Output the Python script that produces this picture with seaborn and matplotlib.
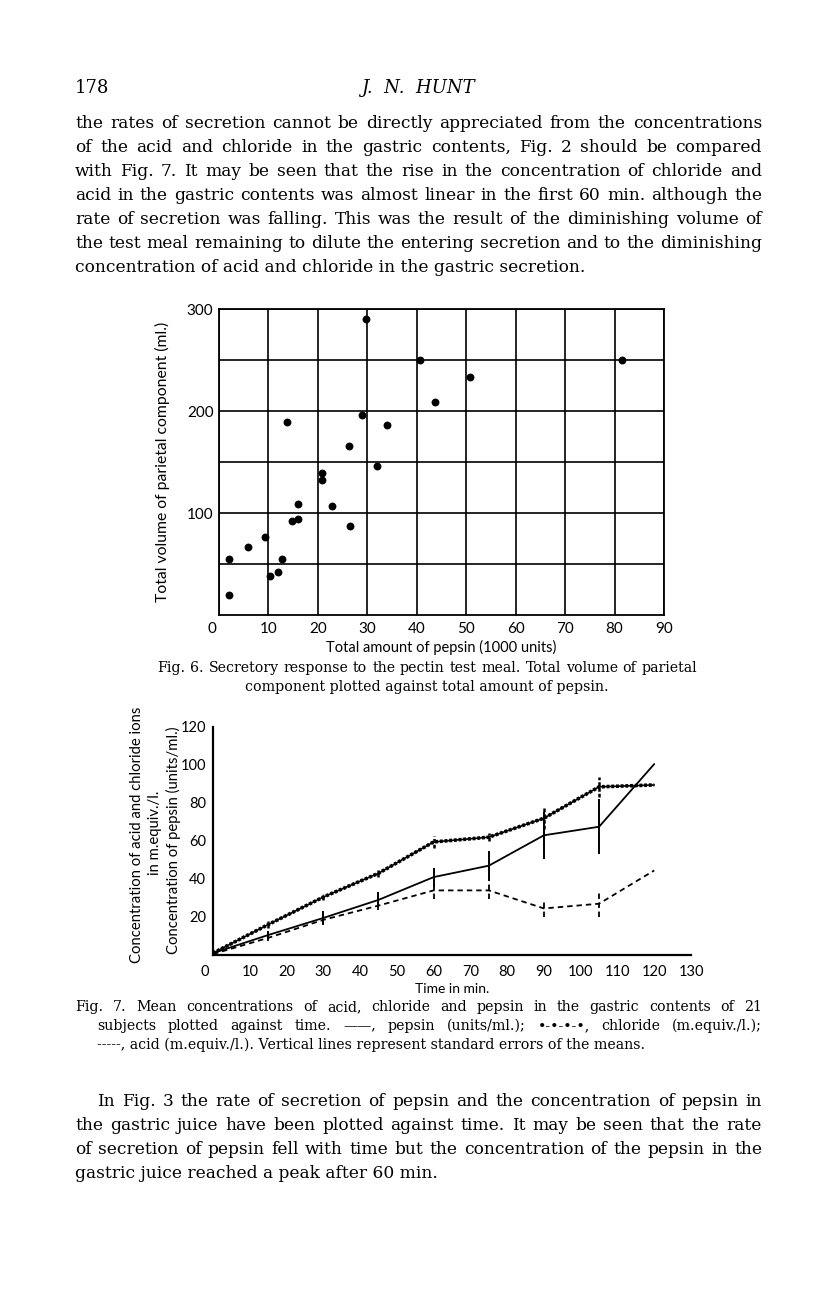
import matplotlib
matplotlib.use("Agg")
import matplotlib.pyplot as plt
import matplotlib.transforms as mtransforms
import numpy as np
import pandas as pd
import seaborn as sns

W, H = 816, 1296
IDENT = mtransforms.IdentityTransform()

# Fig. 6: total pepsin (1000 units) vs total volume of parietal component (ml.)
pepsin_total = [2.0, 2.0, 5.8, 9.3, 10.3, 11.9, 12.8, 13.8, 14.8, 15.9, 15.9, 20.9,
                20.9, 22.8, 26.2, 26.4, 28.9, 29.8, 31.9, 34.0, 40.6, 43.7, 50.7, 81.5]
parietal_volume = [55, 20, 67, 76, 38, 42, 55, 189, 92, 94, 109, 139,
                   132, 107, 166, 87, 196, 290, 146, 186, 250, 209, 233, 250]

# Fig. 7: mean concentrations against time
time_min = [0, 15, 30, 45, 60, 75, 90, 105, 120]
pepsin_conc = [1, 10.5, 19.5, 29, 41, 47, 63, 67.5, 100.5]
chloride_conc = [1, 16, 30.5, 43, 59.5, 62, 72, 88.5, 89.5]
acid_conc = [0.5, 9, 18.5, 26, 34, 34, 24.5, 27, 44.5]
se_time = [15, 30, 45, 60, 75, 90, 105]
pepsin_se = [2, 3.5, 4, 5, 8, 12.5, 14.5]
chloride_se = [1.8, 1.8, 2, 3, 2, 5.6, 5.3]
acid_se = [1.5, 1.5, 2.5, 4.3, 4.6, 4.7, 6.9]

fig6_xticks = list(range(0, 91, 10))
fig6_yticks = [100, 200, 300]
fig7_xticks = list(range(0, 131, 10))
fig7_yticks = [20, 40, 60, 80, 100, 120]

body_top = [
    "the rates of secretion cannot be directly appreciated from the concentrations",
    "of the acid and chloride in the gastric contents, Fig. 2 should be compared",
    "with Fig. 7.  It may be seen that the rise in the concentration of chloride and",
    "acid in the gastric contents was almost linear in the first 60 min. although the",
    "rate of secretion was falling. This was the result of the diminishing volume of",
    "the test meal remaining to dilute the entering secretion and to the diminishing",
    "concentration of acid and chloride in the gastric secretion.",
]
body_bottom = [
    "In Fig. 3 the rate of secretion of pepsin and the concentration of pepsin in",
    "the gastric juice have been plotted against time.  It may be seen that the rate",
    "of secretion of pepsin fell with time but the concentration of the pepsin in the",
    "gastric juice reached a peak after 60 min.",
]
caption6 = [
    "Fig. 6.  Secretory response to the pectin test meal. Total volume of parietal",
    "component plotted against total amount of pepsin.",
]
caption7 = [
    "Fig. 7.  Mean concentrations of acid, chloride and pepsin in the gastric contents of 21",
    "subjects plotted against time.  \u2014\u2014, pepsin (units/ml.);  \u2022-\u2022-\u2022-\u2022, chloride (m.equiv./l.);",
    "-----, acid (m.equiv./l.). Vertical lines represent standard errors of the means.",
]

SERIF = ["DejaVu Serif", "DejaVu Sans"]
SANS = ["Lato", "DejaVu Sans"]


def natural_width(fig, text, size):
    renderer = fig.canvas.get_renderer()
    t = fig.text(0, 0, text, transform=IDENT, fontsize=size, family=SERIF)
    w = t.get_window_extent(renderer).width
    t.remove()
    return w


def fit_size(fig, lines, width, base=10.0):
    # font size at which the widest line just fills the measure
    widest = max(natural_width(fig, ln, base) for ln in lines)
    return base * width / widest


def page_line(fig, text, x0, x1, y, size, justify=True, ha="left", **kw):
    # y is the baseline in image pixels (from the top)
    yd = H - y
    if not justify:
        x = {"left": x0, "center": (x0 + x1) / 2, "right": x1}[ha]
        fig.text(x, yd, text, transform=IDENT, fontsize=size, ha=ha,
                 va="baseline", family=SERIF, color="black", **kw)
        return
    renderer = fig.canvas.get_renderer()
    words = text.split()
    arts = [fig.text(0, yd, w, transform=IDENT, fontsize=size, va="baseline",
                     family=SERIF, color="black", **kw) for w in words]
    widths = [a.get_window_extent(renderer).width for a in arts]
    gap = (x1 - x0 - sum(widths)) / max(len(words) - 1, 1)
    x = x0
    for a, w in zip(arts, widths):
        a.set_x(x)
        x += w + gap


def shift_label(fig, label, dx_px):
    label.set_transform(label.get_transform()
                        + mtransforms.ScaledTranslation(dx_px / fig.dpi, 0, fig.dpi_scale_trans))


def axes_rect(left, top, right, bottom):
    return [left / W, (H - bottom) / H, (right - left) / W, (bottom - top) / H]


sns.set_theme(style="white")
plt.rcParams["font.family"] = SANS
plt.rcParams.update({"text.color": "black", "axes.labelcolor": "black",
                     "xtick.color": "black", "ytick.color": "black"})

fig = plt.figure(figsize=(W / 100, H / 100), dpi=100)
fig.patch.set_facecolor("white")

body_size = fit_size(fig, body_top[:-1] + body_bottom[1:-1], 684)
cap_size = fit_size(fig, caption6[:1], 538)

# ---- running head and top paragraph
fig.text(75, H - 93, "178", transform=IDENT, fontsize=13, family=SERIF, va="baseline")
fig.text(418, H - 93, "J.  N.  HUNT", transform=IDENT, fontsize=13, family=SERIF,
         style="italic", ha="center", va="baseline")
for i, line in enumerate(body_top):
    last = i == len(body_top) - 1
    page_line(fig, line, 75, 762, 128 + 24 * i, body_size, justify=not last)

# ---- Fig. 6
ax6 = fig.add_axes(axes_rect(219, 309, 664, 615))
df6 = pd.DataFrame({"pepsin": pepsin_total, "volume": parietal_volume})
sns.scatterplot(data=df6, x="pepsin", y="volume", ax=ax6, color="black", s=32,
                edgecolor="black", linewidth=0, zorder=3)
ax6.set_xlim(0, 90)
ax6.set_ylim(0, 300)
ax6.set_xticks(fig6_xticks)
ax6.set_yticks(fig6_yticks)
ax6.set_yticks([50, 150, 250], minor=True)
ax6.grid(True, which="both", color="black", lw=1.2)
ax6.set_axisbelow(True)
for sp in ax6.spines.values():
    sp.set_color("black")
    sp.set_linewidth(1.3)
ax6.tick_params(axis="both", which="both", length=0, labelsize=11)
ax6.tick_params(axis="x", pad=5)
ax6.tick_params(axis="y", pad=4)
ax6.set_xlabel("Total amount of pepsin (1000 units)", fontsize=10.5, labelpad=3)
ax6.set_ylabel("Total volume of parietal component (ml.)", fontsize=11.3, labelpad=12)
for lab in ax6.get_xticklabels():
    if lab.get_text() == "0":
        shift_label(fig, lab, -7)

page_line(fig, caption6[0], 157, 697, 672, cap_size)
page_line(fig, caption6[1], 157, 697, 691, cap_size, justify=False, ha="center")

# ---- Fig. 7
ax7 = fig.add_axes(axes_rect(213, 727, 691, 955))
df7 = pd.DataFrame({"time": time_min, "pepsin": pepsin_conc,
                    "chloride": chloride_conc, "acid": acid_conc})
sns.lineplot(data=df7, x="time", y="pepsin", ax=ax7, color="black", lw=1.3,
             errorbar=None)
sns.lineplot(data=df7, x="time", y="chloride", ax=ax7, color="black", lw=1.2,
             errorbar=None)
sns.lineplot(data=df7, x="time", y="chloride", ax=ax7, color="black", lw=2.6,
             linestyle=(0, (0.8, 0.5)), errorbar=None)
sns.lineplot(data=df7, x="time", y="acid", ax=ax7, color="black", lw=1.3,
             linestyle=(0, (3.0, 2.2)), errorbar=None)

se_t = np.array(se_time)
means = df7.set_index("time").loc[se_time]
p_mean = means["pepsin"].to_numpy()
c_mean = means["chloride"].to_numpy()
a_mean = means["acid"].to_numpy()
ax7.vlines(se_t, p_mean - np.array(pepsin_se), p_mean + np.array(pepsin_se),
           color="black", lw=1.4)
ax7.vlines(se_t, c_mean - np.array(chloride_se), c_mean + np.array(chloride_se),
           color="black", lw=1.8, linestyles=[(0, (1.5, 0.8))])
ax7.vlines(se_t, a_mean - np.array(acid_se), a_mean + np.array(acid_se),
           color="black", lw=1.3, linestyles=[(0, (3.0, 2.0))])

ax7.set_xlim(0, 130)
ax7.set_ylim(0, 120)
ax7.set_xticks(fig7_xticks)
ax7.set_yticks(fig7_yticks)
sns.despine(ax=ax7)
for sp in ("left", "bottom"):
    ax7.spines[sp].set_color("black")
    ax7.spines[sp].set_linewidth(1.6)
ax7.tick_params(axis="x", direction="in", length=7, width=1.5, pad=7, labelsize=10.5)
ax7.tick_params(axis="y", direction="in", length=5, width=1.5, pad=5, labelsize=10.5)
ax7.set_xlabel("Time in min.", fontsize=10, labelpad=3)
ax7.set_ylabel("")
for lab in ax7.get_xticklabels():
    if lab.get_text() == "0":
        shift_label(fig, lab, -8)

fig.text(137, H - 835, "Concentration of acid and chloride ions", transform=IDENT,
         rotation=90, fontsize=10.7, ha="center", va="center")
fig.text(155, H - 833, "in m.equiv./l.", transform=IDENT,
         rotation=90, fontsize=10.7, ha="center", va="center")
fig.text(173, H - 840, "Concentration of pepsin (units/ml.)", transform=IDENT,
         rotation=90, fontsize=10.7, ha="center", va="center")

page_line(fig, caption7[0], 75, 762, 1011, cap_size)
page_line(fig, caption7[1], 97, 762, 1030, cap_size)
page_line(fig, caption7[2], 97, 762, 1049, cap_size, justify=False)

# ---- bottom paragraph
for i, line in enumerate(body_bottom):
    last = i == len(body_bottom) - 1
    x0 = 97 if i == 0 else 75
    page_line(fig, line, x0, 762, 1106 + 24 * i, body_size, justify=not last)

fig.savefig("out.png", dpi=100, facecolor="white")
